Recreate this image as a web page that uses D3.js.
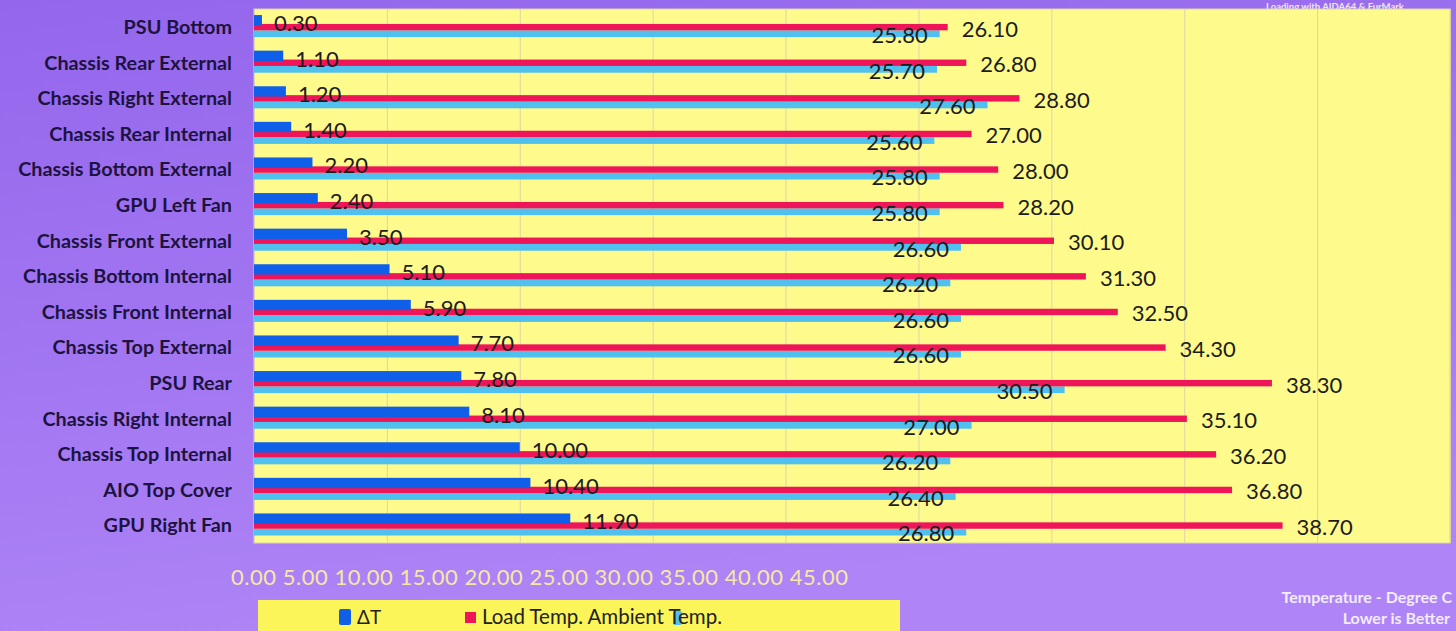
<!DOCTYPE html>
<html lang="en">
<head>
    <meta charset="UTF-8">
    <title>Chassis Temperatures</title>
    <style>
        body { margin: 0; overflow: hidden; }
        svg { display: block; }
    </style>
    <script src="https://cdn.jsdelivr.net/npm/d3@7"></script>
</head>
<body>
    <div id="svg"></div>
    <script>
        const { boxWidth, boxHeight } = { boxWidth: 1456, boxHeight: 631 }
        const { plotLeft, plotRight, plotTop, plotBottom } = { plotLeft: 254, plotRight: 1450, plotTop: 9, plotBottom: 543 }

        const categories = [
            "PSU Bottom", "Chassis Rear External", "Chassis Right External", "Chassis Rear Internal",
            "Chassis Bottom External", "GPU Left Fan", "Chassis Front External", "Chassis Bottom Internal",
            "Chassis Front Internal", "Chassis Top External", "PSU Rear", "Chassis Right Internal",
            "Chassis Top Internal", "AIO Top Cover", "GPU Right Fan"
        ]
        const deltaT = [0.30, 1.10, 1.20, 1.40, 2.20, 2.40, 3.50, 5.10, 5.90, 7.70, 7.80, 8.10, 10.00, 10.40, 11.90]
        const loadTemp = [26.10, 26.80, 28.80, 27.00, 28.00, 28.20, 30.10, 31.30, 32.50, 34.30, 38.30, 35.10, 36.20, 36.80, 38.70]
        const ambientTemp = [25.80, 25.70, 27.60, 25.60, 25.80, 25.80, 26.60, 26.20, 26.60, 26.60, 30.50, 27.00, 26.20, 26.40, 26.80]
        const tickValues = [0, 5, 10, 15, 20, 25, 30, 35, 40, 45]

        const blue = "#0f5fe9", red = "#ef1559", cyan = "#50c0ef", yellow = "#fefa8c"

        const svg = d3.select("#svg").append("svg").attr("width", boxWidth).attr("height", boxHeight)

        const defs = svg.append("defs")
        const grad = defs.append("linearGradient").attr("id", "bg").attr("x1", 0).attr("y1", 0).attr("x2", 0.3).attr("y2", 1)
        grad.append("stop").attr("offset", "0%").attr("stop-color", "#9466ec")
        grad.append("stop").attr("offset", "100%").attr("stop-color", "#ae84f6")
        svg.append("rect").attr("width", boxWidth).attr("height", boxHeight).attr("fill", "url(#bg)")

        // header note (sits just above the plot)
        svg.append("text").attr("x", 1266).attr("y", 9.5)
            .attr("font-family", "Lato, sans-serif").attr("font-weight", 700).attr("font-size", 9.5).attr("fill", "#efe6ff")
            .text("Loading with AIDA64  & FurMark")

        const xScale = d3.scaleLinear().domain([0, 45]).range([plotLeft, plotRight])
        const yScale = d3.scaleBand().domain(categories).range([plotTop, plotBottom])
        const bw = yScale.bandwidth()

        // plot area
        svg.append("rect")
            .attr("x", plotLeft).attr("y", plotTop)
            .attr("width", plotRight - plotLeft).attr("height", plotBottom - plotTop)
            .attr("fill", yellow).attr("stroke", "#d9d3b0").attr("stroke-width", 1)

        // gridlines
        const grid = svg.append("g").attr("transform", `translate(0, ${plotBottom})`)
            .call(d3.axisBottom(xScale).tickValues(tickValues).tickSize(-(plotBottom - plotTop)).tickFormat(""))
        grid.select(".domain").remove()
        grid.selectAll("line").attr("stroke", "#dcd6a6").attr("stroke-width", 1)

        const rows = categories.map((c, i) => ({ name: c, dt: deltaT[i], load: loadTemp[i], amb: ambientTemp[i] }))

        const g = svg.append("g")

        g.selectAll(".amb").data(rows).enter().append("rect")
            .attr("x", xScale(0)).attr("y", d => yScale(d.name) + bw * 0.60)
            .attr("width", d => xScale(d.amb) - xScale(0)).attr("height", bw * 0.19)
            .attr("fill", cyan)

        g.selectAll(".load").data(rows).enter().append("rect")
            .attr("x", xScale(0)).attr("y", d => yScale(d.name) + bw * 0.42)
            .attr("width", d => xScale(d.load) - xScale(0)).attr("height", bw * 0.18)
            .attr("fill", red)

        g.selectAll(".dt").data(rows).enter().append("rect")
            .attr("x", xScale(0)).attr("y", d => yScale(d.name) + bw * 0.17)
            .attr("width", d => xScale(d.dt) - xScale(0)).attr("height", bw * 0.29)
            .attr("fill", blue)

        const valFont = "Lato, 'DejaVu Sans', sans-serif"

        g.selectAll(".dtLabel").data(rows).enter().append("text")
            .attr("x", d => xScale(d.dt) + 12).attr("y", d => yScale(d.name) + 22)
            .attr("font-family", valFont).attr("font-size", 22).attr("fill", "#1c1c1c")
            .text(d => d.dt.toFixed(2))

        g.selectAll(".loadLabel").data(rows).enter().append("text")
            .attr("x", d => xScale(d.load) + 14).attr("y", d => yScale(d.name) + 27.5)
            .attr("font-family", valFont).attr("font-size", 22).attr("fill", "#1c1c1c")
            .text(d => d.load.toFixed(2))

        g.selectAll(".ambLabel").data(rows).enter().append("text")
            .attr("x", d => xScale(d.amb) - 12).attr("y", d => yScale(d.name) + 34)
            .attr("text-anchor", "end")
            .attr("font-family", valFont).attr("font-size", 22).attr("fill", "#1c1c1c")
            .text(d => d.amb.toFixed(2))

        // category labels
        svg.selectAll(".cat").data(categories).enter().append("text")
            .attr("x", 232).attr("y", d => yScale(d) + 25)
            .attr("text-anchor", "end")
            .attr("font-family", "Lato, sans-serif").attr("font-weight", 700).attr("font-size", 19.8)
            .attr("fill", "#1d1340")
            .text(d => d)

        // tick labels, laid out as one flowing row
        const tickRow = svg.append("text")
            .attr("x", 231).attr("y", 585)
            .attr("font-family", valFont).attr("font-size", 22).attr("fill", "#f6e8a4")
            .attr("textLength", 617).attr("lengthAdjust", "spacing")
        tickRow.selectAll("tspan").data(tickValues).enter().append("tspan")
            .text((d, i) => (i ? " " : "") + d.toFixed(2))

        // legend
        const legend = svg.append("g")
        legend.append("rect").attr("x", 258).attr("y", 600).attr("width", 642).attr("height", 40).attr("fill", "#fbf55a")
        legend.append("rect").attr("x", 339).attr("y", 609).attr("width", 12).attr("height", 16).attr("rx", 2).attr("fill", blue)
        legend.append("text").attr("x", 357).attr("y", 624).attr("font-family", valFont).attr("font-size", 19).attr("fill", "#222").text("ΔT")
        legend.append("rect").attr("x", 465).attr("y", 612).attr("width", 11).attr("height", 11).attr("fill", red)
        legend.append("rect").attr("x", 673).attr("y", 611).attr("width", 9).attr("height", 14).attr("rx", 2).attr("fill", cyan)
        legend.append("text").attr("x", 482).attr("y", 624).attr("font-family", valFont).attr("font-size", 20.5).attr("fill", "#222")
            .attr("textLength", 240).attr("lengthAdjust", "spacing")
            .text("Load Temp. Ambient Temp.")

        // notes
        svg.append("text").attr("x", 1452).attr("y", 603).attr("text-anchor", "end")
            .attr("font-family", "Lato, sans-serif").attr("font-weight", 700).attr("font-size", 16).attr("fill", "#f3ecff")
            .text("Temperature - Degree C")
        svg.append("text").attr("x", 1450).attr("y", 624).attr("text-anchor", "end")
            .attr("font-family", "Lato, sans-serif").attr("font-weight", 700).attr("font-size", 16).attr("fill", "#f3ecff")
            .text("Lower is Better")
    </script>
</body>
</html>
